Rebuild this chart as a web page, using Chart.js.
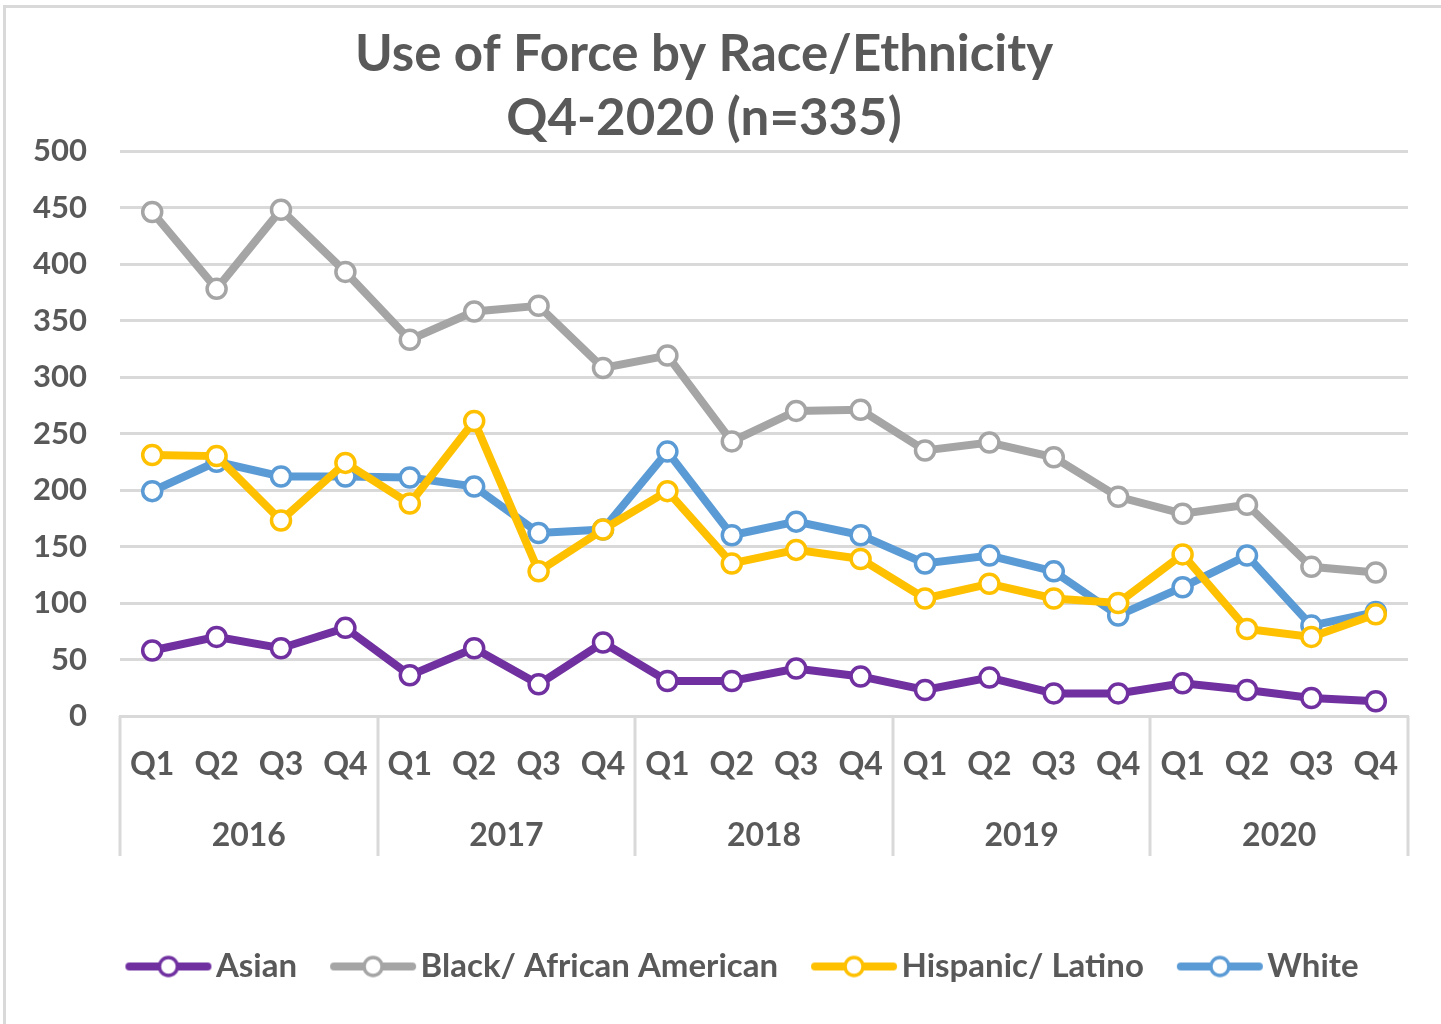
<!DOCTYPE html>
<html>
<head>
<meta charset="utf-8">
<script src="https://cdn.jsdelivr.net/npm/chart.js@4"></script>
<style>
  html, body { margin: 0; padding: 0; background: #fff; }
  #frame { position: absolute; left: 3px; top: 5px; width: 1450px; height: 1030px; border-left: 3px solid #d9d9d9; border-top: 3px solid #d9d9d9; }
  #wrap { position: absolute; left: 0; top: 0; width: 1441px; height: 1024px; }
</style>
</head>
<body>
<div id="frame"></div>
<div id="wrap"><canvas id="myChart"></canvas></div>
<script>
const quarters = ['Q1','Q2','Q3','Q4','Q1','Q2','Q3','Q4','Q1','Q2','Q3','Q4','Q1','Q2','Q3','Q4','Q1','Q2','Q3','Q4'];
const years = ['2016', '2017', '2018', '2019', '2020'];
const yTicks = [0, 50, 100, 150, 200, 250, 300, 350, 400, 450, 500];

const asian    = [58, 70, 60, 78, 36, 60, 28, 65, 31, 31, 42, 35, 23, 34, 20, 20, 29, 23, 16, 13];
const black    = [446, 378, 448, 393, 333, 358, 363, 308, 319, 243, 270, 271, 235, 242, 229, 194, 179, 187, 132, 127];
const hispanic = [231, 230, 173, 224, 188, 261, 128, 165, 199, 135, 147, 139, 104, 117, 104, 100, 143, 77, 70, 90];
const white    = [199, 225, 212, 212, 211, 203, 162, 165, 234, 160, 172, 160, 135, 142, 128, 89, 114, 142, 80, 92];

const FONT = 'Lato, "Open Sans", sans-serif';
const TXT = '#595959';

function series(label, data, color) {
  return {
    label: label,
    data: data,
    borderColor: color,
    backgroundColor: '#ffffff',
    borderWidth: 8,
    pointRadius: 9.5,
    pointBorderWidth: 3.5,
    pointBorderColor: color,
    pointBackgroundColor: '#ffffff',
    tension: 0,
    xAxisID: 'x'
  };
}

// small line + circle swatch for the legend
function swatch(color) {
  const c = document.createElement('canvas');
  c.width = 90; c.height = 26;
  const g = c.getContext('2d');
  g.strokeStyle = color;
  g.lineWidth = 8;
  g.lineCap = 'round';
  g.beginPath(); g.moveTo(6, 13); g.lineTo(84, 13); g.stroke();
  g.fillStyle = '#fff';
  g.lineWidth = 3.5;
  g.beginPath(); g.arc(45, 13, 9, 0, Math.PI * 2); g.fill(); g.stroke();
  return c;
}

const yearLines = {
  id: 'yearLines',
  beforeDraw(chart) {
    // legend in the original sits a bit right of centre
    chart.legend.left += 44;
    chart.legend.right += 44;
  },
  afterDraw(chart) {
    const xs = chart.scales.x;
    const ys = chart.scales.years;
    const ctx = chart.ctx;
    ctx.save();
    ctx.strokeStyle = '#d9d9d9';
    ctx.lineWidth = 3;
    for (let i = 0; i <= years.length; i++) {
      const x = Math.round(xs.left + i * (xs.right - xs.left) / years.length);
      ctx.beginPath();
      ctx.moveTo(x, xs.top);
      ctx.lineTo(x, ys.top + 50);
      ctx.stroke();
    }
    ctx.restore();
  }
};

const data = {
  labels: quarters,
  datasets: [
    series('Asian', asian, '#7030a0'),
    series('Black/ African American', black, '#a5a5a5'),
    series('Hispanic/ Latino', hispanic, '#ffc000'),
    series('White', white, '#5b9bd5')
  ]
};

const config = {
  type: 'line',
  data: data,
  plugins: [yearLines],
  options: {
    responsive: true,
    maintainAspectRatio: false,
    animation: false,
    layout: { padding: { left: 0, right: 33, top: 0, bottom: 31 } },
    scales: {
      x: {
        type: 'category',
        position: 'bottom',
        offset: true,
        grid: { display: false, drawTicks: false },
        border: { display: true, color: '#d9d9d9', width: 3 },
        ticks: { color: TXT, font: { family: FONT, size: 32, weight: 'bold' }, padding: 29, maxRotation: 0, autoSkip: false },
        afterFit(s) { s.height = 90; }
      },
      years: {
        type: 'category',
        position: 'bottom',
        labels: years,
        offset: true,
        grid: { display: false, drawTicks: false },
        border: { display: false },
        ticks: { color: TXT, font: { family: FONT, size: 32, weight: 'bold' }, padding: 10, maxRotation: 0 },
        afterFit(s) { s.height = 99; }
      },
      y: {
        min: 0,
        max: 500,
        afterBuildTicks(s) { s.ticks = yTicks.map(v => ({ value: v })); },
        grid: { color: '#d9d9d9', lineWidth: 3, drawTicks: false },
        border: { display: false },
        ticks: { color: TXT, font: { family: FONT, size: 31, weight: 'bold' }, padding: 33 },
        afterFit(s) { s.width = 120; }
      }
    },
    plugins: {
      title: {
        display: true,
        text: ['Use of Force by Race/Ethnicity', 'Q4-2020 (n=335)'],
        color: TXT,
        font: { family: FONT, size: 51, weight: 'bold', lineHeight: 1.255 },
        padding: { top: 23, bottom: 0 }
      },
      legend: {
        position: 'bottom',
        labels: {
          color: TXT,
          font: { family: FONT, size: 33, weight: 'bold' },
          usePointStyle: true,
          pointStyleWidth: 62,
          padding: 45,
          generateLabels(chart) {
            return chart.data.datasets.map((ds, i) => ({
              text: ds.label,
              pointStyle: swatch(ds.borderColor),
              fillStyle: ds.borderColor,
              strokeStyle: ds.borderColor,
              lineWidth: 0,
              fontColor: TXT,
              datasetIndex: i,
              hidden: false
            }));
          }
        }
      },
      tooltip: { enabled: false }
    }
  }
};

new Chart(document.getElementById('myChart'), config);
</script>
</body>
</html>
